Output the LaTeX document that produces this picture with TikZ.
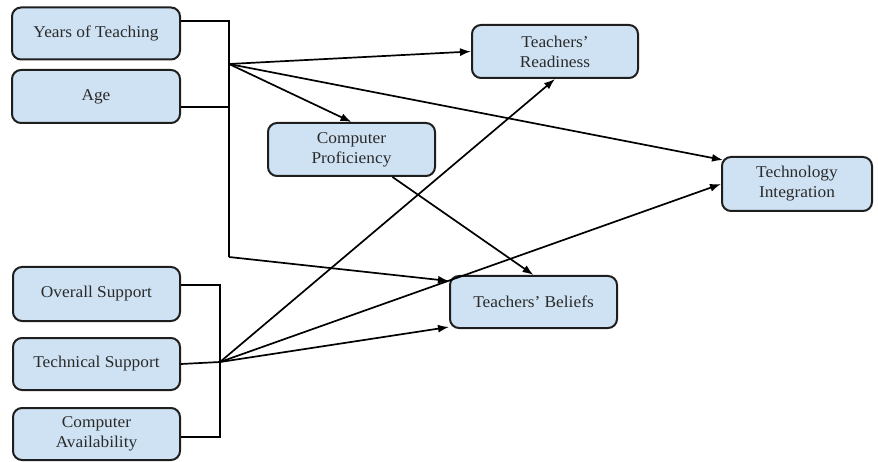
\documentclass[tikz,border=0pt]{standalone}
\usepackage{fontspec}
\setmainfont{Liberation Serif}[FakeStretch=1.05]
\usetikzlibrary{arrows.meta}
\definecolor{boxfill}{HTML}{CFE2F3}
\definecolor{boxline}{HTML}{1E1E1E}
\definecolor{txt}{HTML}{2A2A2A}
\tikzset{
  box/.style={draw=boxline, line width=2pt, fill=boxfill, rounded corners=9pt,
    text=txt, align=center, inner sep=0pt,
    font=\fontsize{16.5}{20}\selectfont},
  conn/.style={line width=1.7pt, draw=black},
  arr/.style={conn, -{Latex[length=11pt,width=8pt]}}
}
\begin{document}
\begin{tikzpicture}[x=1pt,y=-1pt]
\useasboundingbox (0,0) rectangle (878,462);
% boxes
\node[box, minimum width=168pt, minimum height=52pt] (yot) at (96,33.5) {Years of Teaching};
\node[box, minimum width=168pt, minimum height=53pt] (age) at (96,96.5) {Age};
\node[box, minimum width=167pt, minimum height=53pt] (cp) at (351.5,149.5) {Computer\\Proficiency};
\node[box, minimum width=166pt, minimum height=53pt] (tr) at (555,51.5) {Teachers'\\Readiness};
\node[box, minimum width=150pt, minimum height=54pt] (ti) at (797,184) {Technology\\Integration};
\node[box, minimum width=167pt, minimum height=52pt] (tb) at (533.5,302) {Teachers' Beliefs};
\node[box, minimum width=167pt, minimum height=54pt] (os) at (96.5,294) {Overall Support};
\node[box, minimum width=167pt, minimum height=52pt] (ts) at (96.5,364) {Technical Support};
\node[box, minimum width=167pt, minimum height=52pt] (ca) at (96.5,434) {Computer\\Availability};
% top bracket
\coordinate (b1) at (229,21);
\coordinate (b2) at (229,107);
\coordinate (h1) at (229,64);
\coordinate (c1) at (229,257);
\draw[conn] (yot.east |- b1) -- (b1) -- (b2) -- (age.east |- b2);
\draw[conn] (b2) -- (c1);
% bottom bracket
\coordinate (b3) at (220,285);
\coordinate (b4) at (220,437);
\coordinate (h2) at (220,362);
\draw[conn] (os.east |- b3) -- (b3) -- (b4) -- (ca.east |- b4);
\draw[conn] (ts.east) -- (h2);
% arrows from top hub
\draw[arr] (h1) -- (tr.west);
\draw[arr] (h1) -- (cp.north);
\draw[arr] (h1) -- ([xshift=2pt,yshift=24pt]ti.west);
\draw[arr] (c1) -- ([yshift=-6pt]tb.north west);
% arrows from bottom hub
\draw[arr] (h2) -- (tr.south);
\draw[arr] (h2) -- (ti.west);
\draw[arr] (h2) -- ([yshift=2pt]tb.south west);
% proficiency to beliefs
\draw[arr] ([xshift=41pt]cp.south) -- (tb.north);
\end{tikzpicture}
\end{document}
